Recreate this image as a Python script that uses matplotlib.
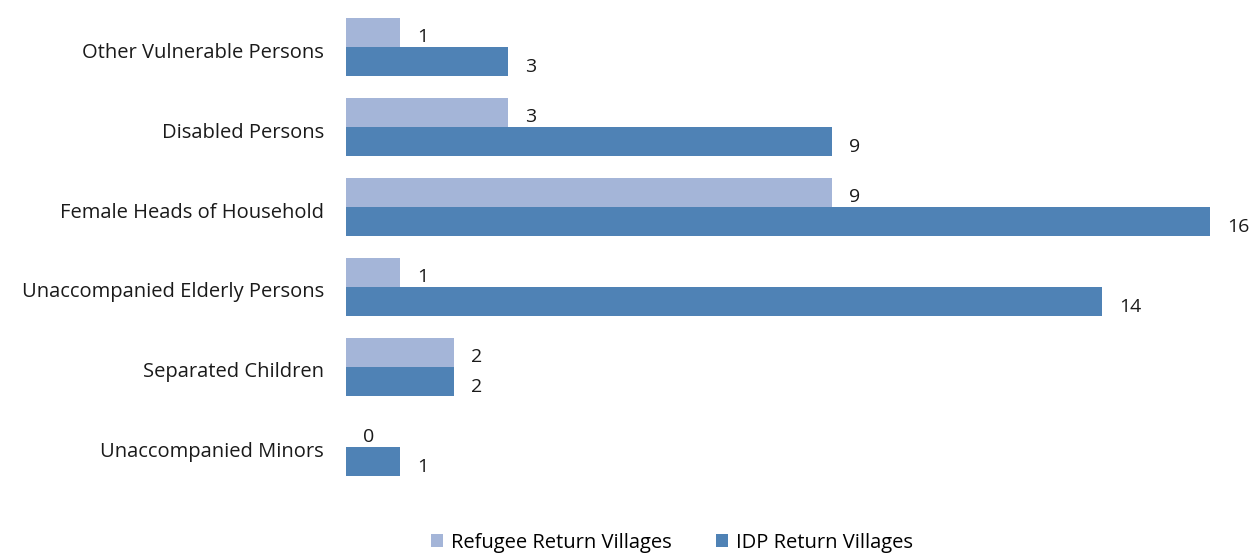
import matplotlib
matplotlib.use('Agg')
import matplotlib.pyplot as plt
import matplotlib.transforms as mtransforms
import numpy as np

plt.rcParams['font.family'] = ['Open Sans', 'DejaVu Sans']

categories = ['Unaccompanied Minors', 'Separated Children', 'Unaccompanied Elderly Persons',
              'Female Heads of Household', 'Disabled Persons', 'Other Vulnerable Persons']
refugee = [0, 2, 1, 9, 3, 1]
idp = [1, 2, 14, 16, 9, 3]

c_ref = '#A4B5D8'
c_idp = '#4F82B5'

fig = plt.figure(figsize=(12.52, 5.55), dpi=100)
ax = fig.add_axes([346/1252, 1 - 487/555, 864/1252, 480/555])

y = np.arange(len(categories))
h = 0.3625
b1 = ax.barh(y + h/2, refugee, height=h, color=c_ref, label='Refugee Return Villages')
b2 = ax.barh(y - h/2, idp, height=h, color=c_idp, label='IDP Return Villages')

for bars, vals in [(b1, refugee), (b2, idp)]:
    for r, v in zip(bars, vals):
        ax.annotate(str(v), (v, r.get_y() + r.get_height()/2), xytext=(17, -5),
                    textcoords='offset pixels', ha='left', va='center',
                    fontsize=14, color='#1a1a1a', annotation_clip=False)

ax.set_xlim(0, 16)
ax.set_ylim(-0.5, 5.5)
ax.set_yticks(y)
ax.set_yticklabels(categories, fontsize=14.5, color='#1a1a1a')
ax.tick_params(axis='y', length=0, pad=16)
# nudge category labels slightly down
shift = mtransforms.ScaledTranslation(0, -3/100, fig.dpi_scale_trans)
for lab in ax.get_yticklabels():
    lab.set_transform(lab.get_transform() + shift)
ax.set_xticks([])
for s in ax.spines.values():
    s.set_visible(False)

fig.legend(handles=[b1, b2], loc='center', bbox_to_anchor=(0.537, 0.022), ncol=2,
           frameon=False, fontsize=14.5, handlelength=0.6, handleheight=0.6,
           handletextpad=0.4, columnspacing=2.2)

fig.savefig('out.png', dpi=100)
